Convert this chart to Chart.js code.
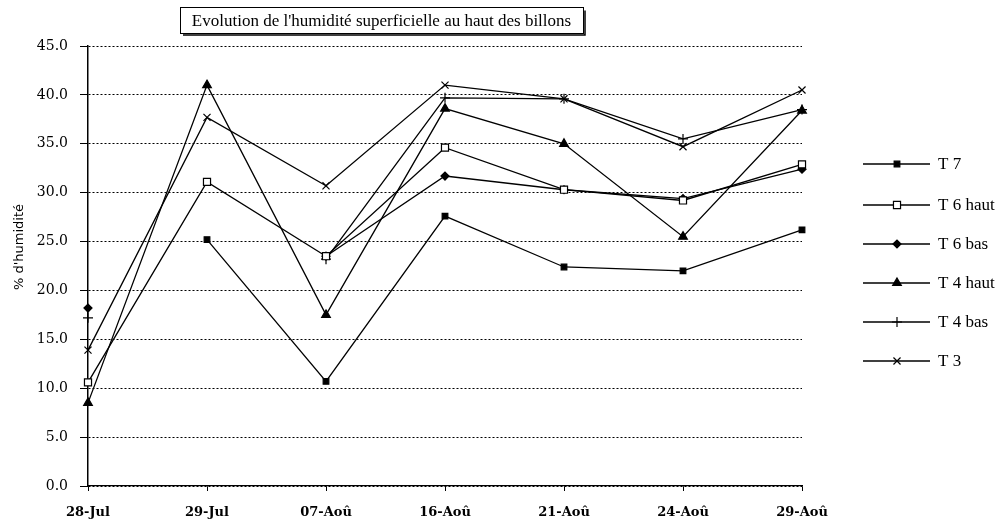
<!DOCTYPE html>
<html>
<head>
<meta charset="utf-8">
<script src="https://cdn.jsdelivr.net/npm/chart.js@4"></script>
<style>
html,body{margin:0;padding:0;background:#fff;}
#wrap{width:1001px;height:529px;position:relative;}
</style>
</head>
<body>
<div id="wrap"><canvas id="c" width="1001" height="529"></canvas></div>
<script>
const chartTitle = "Evolution de l'humidité superficielle au haut des billons";
const yTitle = "% d'humidité";
const categories = ["28-Jul", "29-Jul", "07-Aoû", "16-Aoû", "21-Aoû", "24-Aoû", "29-Aoû"];
const yTicks = [0, 5, 10, 15, 20, 25, 30, 35, 40, 45];
const seriesNames = ["T 7", "T 6 haut", "T 6 bas", "T 4 haut", "T 4 bas", "T 3"];
const t7     = [null, 25.2, 10.7, 27.6, 22.4, 22.0, 26.2];
const t6haut = [10.6, 31.1, 23.5, 34.6, 30.3, 29.2, 32.9];
const t6bas  = [18.2, null, 23.5, 31.7, 30.3, 29.4, 32.4];
const t4haut = [8.5, 41.0, 17.5, 38.6, 35.0, 25.5, 38.4];
const t4bas  = [17.2, null, 23.2, 39.7, 39.6, 35.5, 38.5];
const t3     = [13.9, 37.7, 30.7, 41.0, 39.6, 34.7, 40.5];

const serif = "'DejaVu Serif', 'Liberation Serif', serif";
const styles = [
  {pointStyle: 'rect', radius: 4, bg: '#000'},
  {pointStyle: 'rect', radius: 5, bg: '#fff'},
  {pointStyle: 'rectRot', radius: 4, bg: '#000'},
  {pointStyle: 'triangle', radius: 5, bg: '#000'},
  {pointStyle: 'cross', radius: 5, bg: '#000'},
  {pointStyle: 'crossRot', radius: 5, bg: '#000'}
];
const allData = [t7, t6haut, t6bas, t4haut, t4bas, t3];
const datasets = allData.map((d, i) => ({
  label: seriesNames[i],
  data: d,
  borderColor: '#000',
  borderWidth: 1.3,
  backgroundColor: styles[i].bg,
  pointStyle: styles[i].pointStyle,
  pointRadius: styles[i].radius,
  pointBorderColor: '#000',
  pointBackgroundColor: styles[i].bg,
  pointBorderWidth: 1.2,
  spanGaps: false,
  tension: 0,
  clip: false
}));

const deco = {
  id: 'deco',
  afterDraw(chart) {
    const ctx = chart.ctx;
    ctx.save();
    // title box
    ctx.font = "17px 'Liberation Serif', serif";
    const tw = ctx.measureText(chartTitle).width;
    const cx = 381.5, bw = 403, bx = cx - bw / 2, by = 7.5, bh = 26;
    ctx.fillStyle = '#fff';
    ctx.fillRect(bx, by, bw, bh);
    ctx.strokeStyle = '#000';
    ctx.lineWidth = 1;
    ctx.strokeRect(bx + 0.5, by, bw, bh);
    ctx.lineWidth = 1.5;
    ctx.beginPath();
    ctx.moveTo(bx + 3, by + bh + 1.5); ctx.lineTo(bx + bw + 2, by + bh + 1.5); ctx.lineTo(bx + bw + 2, by + 3);
    ctx.stroke();
    ctx.fillStyle = '#000';
    ctx.textAlign = 'center';
    ctx.textBaseline = 'middle';
    ctx.fillText(chartTitle, cx, by + bh / 2 + 1, bw - 6);
    // y axis title
    ctx.save();
    ctx.translate(20, 247);
    ctx.rotate(-Math.PI / 2);
    ctx.font = "13px 'DejaVu Sans', sans-serif";
    ctx.fillText(yTitle, 0, 0);
    ctx.restore();
    // legend
    const ys = [164, 205, 244, 283, 322, 361];
    ctx.font = "17px 'Liberation Serif', serif";
    ctx.textAlign = 'left';
    chart.data.datasets.forEach((ds, i) => {
      const y = ys[i];
      ctx.strokeStyle = '#000';
      ctx.lineWidth = 1.3;
      ctx.beginPath(); ctx.moveTo(863, y); ctx.lineTo(930, y); ctx.stroke();
      ctx.fillStyle = ds.pointBackgroundColor;
      ctx.strokeStyle = '#000';
      ctx.lineWidth = 1.2;
      Chart.helpers.drawPoint(ctx, {
        pointStyle: ds.pointStyle, radius: ds.pointRadius, rotation: 0, borderWidth: 1.2
      }, 897, y);
      ctx.fillStyle = '#000';
      ctx.fillText(ds.label, 938, y + 1);
    });
    ctx.restore();
  }
};

new Chart(document.getElementById('c'), {
  type: 'line',
  data: {labels: categories, datasets},
  options: {
    responsive: false,
    animation: false,
    devicePixelRatio: 1,
    layout: {padding: {left: 0, right: 199, top: 46, bottom: 0}},
    plugins: {legend: {display: false}, title: {display: false}, tooltip: {enabled: false}},
    scales: {
      x: {
        type: 'category',
        offset: false,
        grid: {display: true, drawOnChartArea: false, drawTicks: true, tickLength: 5, color: '#000', lineWidth: 1},
        border: {display: true, color: '#000', width: 1.3},
        ticks: {color: '#000', font: {family: serif, size: 13, weight: 'bold'}, padding: 14, maxRotation: 0, autoSkip: false},
        afterFit(s) { s.height = 43; }
      },
      y: {
        min: 0, max: 45,
        afterBuildTicks(s) { s.ticks = yTicks.map(v => ({value: v})); },
        grid: {display: true, color: '#000', lineWidth: 1, drawTicks: true, tickLength: 8},
        border: {display: true, color: '#000', width: 1.5, dash: [2, 2]},
        ticks: {color: '#000', font: {family: serif, size: 14}, padding: 12, callback: v => Number(v).toFixed(1)},
        title: {display: false},
        afterFit(s) { s.width = 88; }
      }
    }
  },
  plugins: [deco]
});
</script>
</body>
</html>
